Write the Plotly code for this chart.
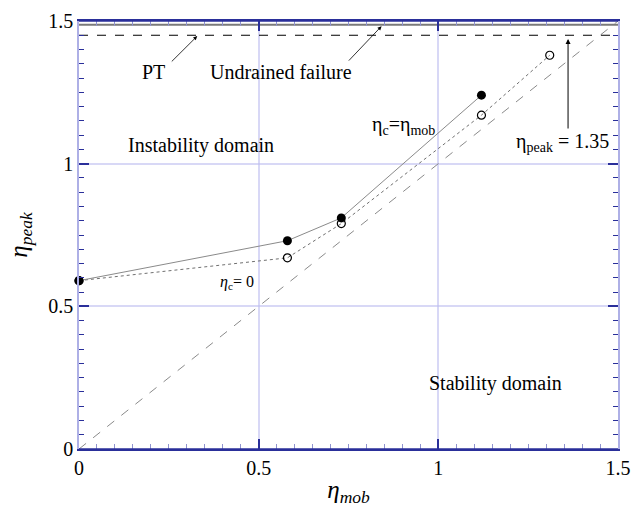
import plotly.graph_objects as go

# Peak stress ratio versus mobilised stress ratio
eta_mob_full = [0.0, 0.58, 0.73, 1.12]          # eta_c = eta_mob (filled)
eta_peak_full = [0.59, 0.73, 0.81, 1.24]
eta_mob_zero = [0.0, 0.58, 0.73, 1.12, 1.31]    # eta_c = 0 (open)
eta_peak_zero = [0.59, 0.67, 0.79, 1.17, 1.38]
identity_line = [0.0, 1.5]
pt_level = 1.45
undrained_level = 1.487
axis_ticks = [0, 0.5, 1, 1.5]
axis_ticktext = ["0", "0.5", "1", "1.5"]

NAVY = "#2a2f9a"
LAVENDER = "#aeb0e6"
GRID = "rgba(190,190,240,0.6)"
SERIF = "Times New Roman"

fig = go.Figure()

fig.add_trace(go.Scatter(
    x=identity_line, y=identity_line, mode="lines",
    line=dict(color="#8a8a8a", width=1, dash="dash"),
    hoverinfo="skip", showlegend=False))

fig.add_trace(go.Scatter(
    x=[0, 1.5], y=[undrained_level, undrained_level], mode="lines",
    line=dict(color="#7a7a7a", width=2), showlegend=False))
fig.add_trace(go.Scatter(
    x=[0, 1.5], y=[pt_level, pt_level], mode="lines",
    line=dict(color="black", width=1.2, dash="dash"), showlegend=False))

fig.add_trace(go.Scatter(
    x=eta_mob_zero, y=eta_peak_zero, mode="lines+markers",
    line=dict(color="#707070", width=1, dash="dot"),
    marker=dict(symbol="circle-open", size=8, color="black", line=dict(width=1.2)),
    cliponaxis=False, showlegend=False))

fig.add_trace(go.Scatter(
    x=eta_mob_full, y=eta_peak_full, mode="lines+markers",
    line=dict(color="#8a8a8a", width=1),
    marker=dict(symbol="circle", size=9, color="black"),
    cliponaxis=False, showlegend=False))

axis_common = dict(
    range=[0, 1.5], tickvals=axis_ticks, ticktext=axis_ticktext,
    ticks="inside", ticklen=10, tickwidth=1.5, tickcolor=NAVY,
    showgrid=True, gridcolor=GRID, gridwidth=2,
    zeroline=False, showline=True, mirror="ticks", linewidth=1.5,
    automargin=False,
    tickfont=dict(family=SERIF, size=20, color="black"),
)

fig.update_xaxes(**axis_common, linecolor=NAVY,
                 minor=dict(dtick=0.05, ticks="inside", ticklen=5, tickcolor="#8f93cf",
                            tickwidth=1, showgrid=False),
                 title=dict(text="<i>η<sub>mob</sub></i>",
                            font=dict(family=SERIF, size=25, color="black"),
                            standoff=6))
fig.update_yaxes(**axis_common, linecolor=LAVENDER,
                 minor=dict(dtick=0.05, ticks="inside", ticklen=5, tickcolor=NAVY,
                            tickwidth=1, showgrid=False),
                 title=dict(text="<i>η<sub>peak</sub></i>",
                            font=dict(family=SERIF, size=25, color="black"),
                            standoff=14))

# Navy top and bottom frame edges
fig.add_shape(type="line", xref="paper", yref="paper", x0=0, x1=1, y0=1, y1=1,
              line=dict(color=NAVY, width=1.5), layer="above")
fig.add_shape(type="line", xref="paper", yref="paper", x0=0, x1=1, y0=0, y1=0,
              line=dict(color=NAVY, width=1.5), layer="above")

txt = dict(family=SERIF, size=20, color="black")
annotations = [
    dict(x=0.208, y=1.32, text="PT", showarrow=False, font=txt),
    dict(x=0.563, y=1.32, text="Undrained failure", showarrow=False, font=txt),
    dict(x=0.34, y=1.063, text="Instability domain", showarrow=False, font=txt),
    dict(x=1.16, y=0.23, text="Stability domain", showarrow=False, font=txt),
    dict(x=0.903, y=1.135, text="η<sub>c</sub>=η<sub>mob</sub>", showarrow=False, font=txt),
    dict(x=0.44, y=0.585, text="<i>η</i><sub>c</sub>= 0", showarrow=False,
         font=dict(family=SERIF, size=16, color="black")),
    dict(x=1.345, y=1.075, text="η<sub>peak</sub> = 1.35", showarrow=False, font=txt),
    # arrows
    dict(x=0.329, y=1.447, ax=0.254, ay=1.353, xref="x", yref="y", axref="x", ayref="y",
         text="", showarrow=True, arrowhead=2, arrowsize=1, arrowwidth=0.8, arrowcolor="black"),
    dict(x=0.842, y=1.482, ax=0.747, ay=1.356, xref="x", yref="y", axref="x", ayref="y",
         text="", showarrow=True, arrowhead=2, arrowsize=1, arrowwidth=0.8, arrowcolor="black"),
    dict(x=1.361, y=1.437, ax=1.361, ay=1.118, xref="x", yref="y", axref="x", ayref="y",
         text="", showarrow=True, arrowhead=2, arrowsize=1, arrowwidth=1, arrowcolor="black"),
]
fig.update_layout(annotations=annotations)

fig.update_layout(
    width=632, height=507,
    margin=dict(l=79, r=14, t=21, b=58),
    plot_bgcolor="white", paper_bgcolor="white",
    font=dict(family=SERIF),
)

fig.write_html("out.html")
